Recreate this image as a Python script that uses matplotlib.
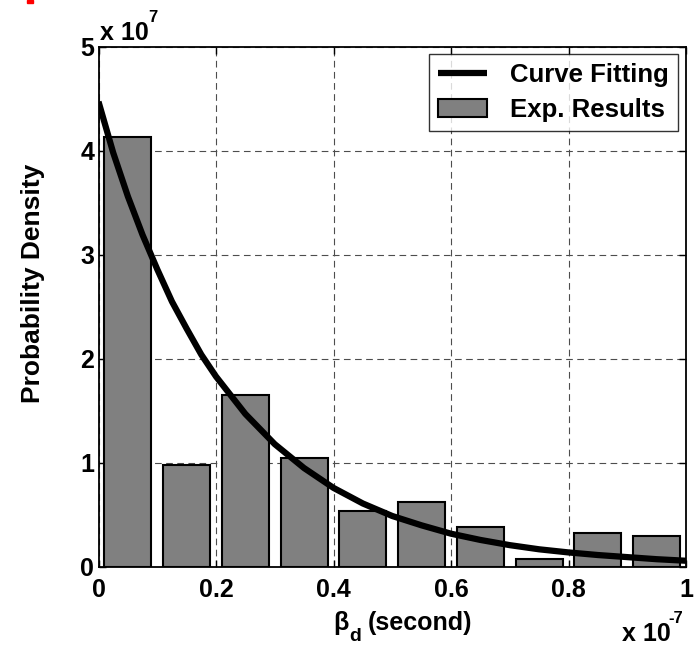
import matplotlib
matplotlib.use("Agg")
import matplotlib.pyplot as plt
from matplotlib.patches import Rectangle

# histogram of beta_d, x in units of 1e-7 s, density in units of 1e7
bin_centers = [0.05, 0.15, 0.25, 0.35, 0.45, 0.55, 0.65, 0.75, 0.85, 0.95]
bar_heights = [4.13, 0.98, 1.65, 1.05, 0.54, 0.62, 0.38, 0.08, 0.33, 0.30]
bar_width = 0.08

# fitted curve
fit_x = [0.0, 0.025, 0.05, 0.075, 0.10, 0.125, 0.15, 0.175, 0.20, 0.25,
         0.30, 0.35, 0.40, 0.45, 0.50, 0.55, 0.60, 0.65, 0.70, 0.75,
         0.80, 0.85, 0.90, 0.95, 1.00]
fit_y = [4.47, 3.98, 3.56, 3.19, 2.86, 2.55, 2.29, 2.04, 1.83, 1.47,
         1.18, 0.95, 0.76, 0.61, 0.49, 0.40, 0.32, 0.26, 0.21, 0.17,
         0.14, 0.115, 0.095, 0.075, 0.06]

xticks = [0, 0.2, 0.4, 0.6, 0.8, 1]
xticklabels = ["0", "0.2", "0.4", "0.6", "0.8", "1"]
yticks = [0, 1, 2, 3, 4, 5]

plt.rcParams['font.family'] = ['Liberation Sans', 'DejaVu Sans']
plt.rcParams['font.weight'] = 'bold'

W, H = 699, 645
fig = plt.figure(figsize=(W / 100, H / 100), dpi=100)
ax = fig.add_axes([98.5 / W, 1 - 567 / H, (686 - 98.5) / W, (567 - 46.5) / H])


def px(x, y):
    # figure fraction from pixel coordinates (origin top-left)
    return x / W, 1 - y / H


ax.bar(bin_centers, bar_heights, width=bar_width, color='#808080',
       edgecolor='black', linewidth=1.5, label='Exp. Results', zorder=2)
ax.plot(fit_x, fit_y, color='black', linewidth=4.5, label='Curve Fitting',
        zorder=3, solid_capstyle='butt', solid_joinstyle='round')

ax.set_xlim(0, 1)
ax.set_ylim(0, 5)
ax.set_xticks(xticks)
ax.set_xticklabels(xticklabels)
ax.set_yticks(yticks)
ax.tick_params(direction='in', length=5, width=1, labelsize=18,
               top=True, right=True)
ax.tick_params(axis='x', pad=8)
ax.tick_params(axis='y', pad=3)
ax.grid(True, linestyle=(0, (6, 4)), color='0.3', linewidth=0.8, zorder=0)
ax.set_axisbelow(True)
for s in ax.spines.values():
    s.set_linewidth(1.3)

leg = ax.legend(loc='upper right', bbox_to_anchor=(678 / W, 1 - 54 / H),
                bbox_transform=fig.transFigure, fontsize=18.5, frameon=True,
                fancybox=False, edgecolor='black', handlelength=1.9,
                handletextpad=0.9, labelspacing=0.42, borderpad=0.35,
                borderaxespad=0)
leg.get_frame().set_linewidth(1.0)

# axis labels and exponent texts placed like the original
fig.text(*px(33, 283), "Probability Density", rotation=90, fontsize=19,
         ha='center', va='center')
fig.text(*px(333, 630), "\u03b2", fontsize=18, ha='left', va='baseline')
fig.text(*px(349, 641), "d", fontsize=14, ha='left', va='baseline')
fig.text(*px(368, 630), "(second)", fontsize=18, ha='left', va='baseline')

fig.text(*px(100, 40), "x 10", fontsize=18, ha='left', va='baseline')
fig.text(*px(148, 22), "7", fontsize=12, ha='left', va='baseline')
fig.text(*px(622, 641), "x 10", fontsize=18, ha='left', va='baseline')
fig.text(*px(668, 623), "-7", fontsize=12, ha='left', va='baseline')

fig.patches.append(Rectangle(px(27, 3), 6 / W, 3 / H, color='red',
                             transform=fig.transFigure, figure=fig))

fig.savefig("out.png", dpi=100)
